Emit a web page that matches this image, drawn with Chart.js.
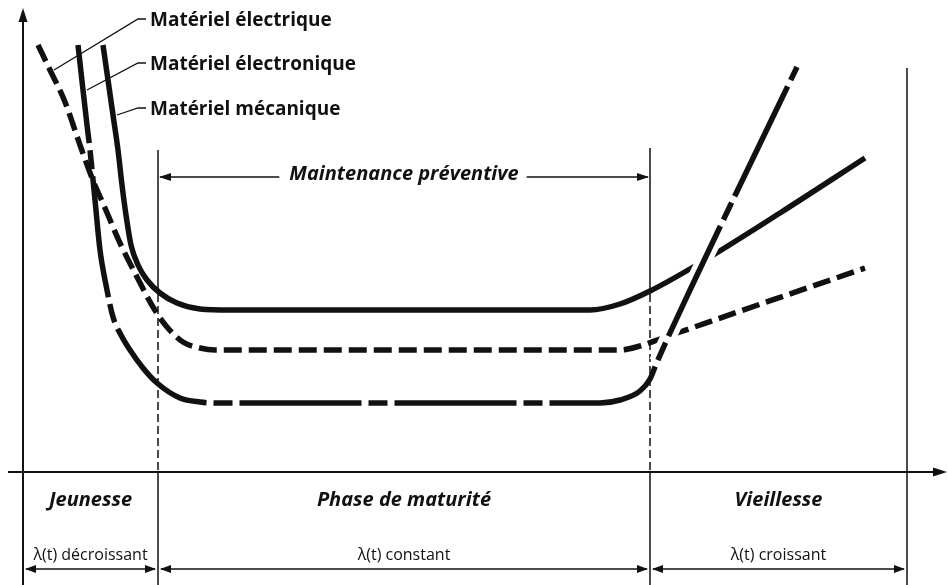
<!DOCTYPE html>
<html lang="fr">
<head>
<meta charset="utf-8">
<title>Courbe en baignoire</title>
<script src="https://cdn.jsdelivr.net/npm/chart.js@4.4.1/dist/chart.umd.min.js"></script>
<style>
  html, body { margin: 0; padding: 0; background: #fff; }
  #wrap { width: 947px; height: 585px; }
</style>
</head>
<body>
<div id="wrap"><canvas id="bathtubChart"></canvas></div>
<script>
// t = temps, lambda = taux de défaillance (unités arbitraires)
const tElectrique = [15, 27, 42, 57, 69, 82, 97, 114, 130, 144, 160, 177, 192, 597, 617, 637, 657, 842];
const lambdaElectrique = [427, 402, 370, 327, 294, 264, 229, 195, 165, 145, 130, 124, 122, 122, 126, 133, 140, 204];

const tElectronique = [55, 60, 64, 67, 72, 77, 83, 90, 98, 107, 120, 134, 157, 177, 194, 577, 597, 617, 627, 634, 667, 707, 774];
const lambdaElectronique = [427, 382, 347, 322, 272, 222, 187, 155, 137, 122, 104, 89, 74, 70, 69, 69, 72, 81, 93, 110, 182, 266, 405];

const tMecanique = [80, 85, 90, 95, 99, 103, 108, 115, 124, 137, 154, 177, 207, 567, 597, 627, 672, 757, 842];
const lambdaMecanique = [427, 392, 357, 322, 287, 257, 227, 207, 192, 179, 169, 163, 162, 162, 168, 181, 206, 259, 314];

const seriesNames = ["Matériel électrique", "Matériel électronique", "Matériel mécanique"];
const phaseBounds = [0, 135, 627, 884];
const phaseNames = ["Jeunesse", "Phase de maturité", "Vieillesse"];
const phaseTrends = ["λ(t) décroissant", "λ(t) constant", "λ(t) croissant"];
const maintenanceLabel = "Maintenance préventive";

const toPoints = (ts, ls) => ts.map((t, i) => ({ x: t, y: ls[i] }));
const ptsElectrique = toPoints(tElectrique, lambdaElectrique);
const ptsElectronique = toPoints(tElectronique, lambdaElectronique);
const ptsMecanique = toPoints(tMecanique, lambdaMecanique);
// white halo under the steep part so the other curves look "cut"
const ptsHalo = ptsElectronique.filter((p) => p.x >= 634);

const FONT = '"Open Sans", "DejaVu Sans", sans-serif';
const INK = "#111";

// where things sit, in lambda units (y) unless noted
const layout = {
    boundaryTop: [null, 322, 324, 404],
    dashedFrom: 190,
    yAxisTop: 464,
    xAxisLeft: -15,
    maintenanceY: 295,
    labelY: [446, 402, 357],
    labelX: 127,
    leaderIndex: [1, 1, 2],
    phaseNameY: -34,
    trendY: -88,
    arrowY: -97,
};

function arrowHead(ctx, x, y, dir, len, half) {
    ctx.beginPath();
    ctx.moveTo(x, y);
    if (dir === "left") {
        ctx.lineTo(x + len, y - half);
        ctx.lineTo(x + len, y + half);
    } else if (dir === "right") {
        ctx.lineTo(x - len, y - half);
        ctx.lineTo(x - len, y + half);
    } else {
        ctx.lineTo(x - half, y + len);
        ctx.lineTo(x + half, y + len);
    }
    ctx.closePath();
    ctx.fill();
}

function line(ctx, x1, y1, x2, y2) {
    ctx.beginPath();
    ctx.moveTo(x1, y1);
    ctx.lineTo(x2, y2);
    ctx.stroke();
}

const diagramPlugin = {
    id: "diagram",
    beforeDatasetsDraw(chart) {
        const { ctx, scales: { x, y } } = chart;
        const px = (t) => x.getPixelForValue(t);
        const py = (v) => y.getPixelForValue(v);
        const bottom = chart.height;
        ctx.save();
        ctx.strokeStyle = INK;
        ctx.fillStyle = INK;

        // phase boundaries
        ctx.lineWidth = 1.5;
        for (let i = 1; i < phaseBounds.length; i++) {
            const bx = px(phaseBounds[i]);
            if (i < phaseBounds.length - 1) {
                line(ctx, bx, py(layout.boundaryTop[i]), bx, py(layout.dashedFrom));
                ctx.setLineDash([8, 4]);
                line(ctx, bx, py(layout.dashedFrom), bx, py(0));
                ctx.setLineDash([]);
                line(ctx, bx, py(0), bx, bottom);
            } else {
                line(ctx, bx, py(layout.boundaryTop[i]), bx, bottom);
            }
        }

        // axes
        ctx.lineWidth = 2;
        line(ctx, px(0), bottom, px(0), py(layout.yAxisTop) + 10);
        arrowHead(ctx, px(0), py(layout.yAxisTop), "up", 14, 4.5);
        line(ctx, px(layout.xAxisLeft), py(0), chart.width - 10, py(0));
        arrowHead(ctx, chart.width, py(0), "right", 14, 4.5);
        ctx.restore();
    },
    afterDatasetsDraw(chart) {
        const { ctx, scales: { x, y } } = chart;
        const px = (t) => x.getPixelForValue(t);
        const py = (v) => y.getPixelForValue(v);
        const pts = [ptsElectrique, ptsElectronique, ptsMecanique];
        ctx.save();
        ctx.strokeStyle = INK;
        ctx.fillStyle = INK;

        // series labels + leader lines
        ctx.font = "bold 19px " + FONT;
        ctx.textBaseline = "alphabetic";
        ctx.lineWidth = 1.3;
        seriesNames.forEach((name, i) => {
            const ty = py(layout.labelY[i]);
            const lx = px(layout.labelX);
            ctx.fillText(name, lx, ty);
            const p = pts[i][layout.leaderIndex[i]];
            const midY = ty - 7;
            ctx.beginPath();
            ctx.moveTo(lx - 4, midY);
            ctx.lineTo(lx - 12, midY);
            ctx.lineTo(px(p.x) + 4, py(p.y));
            ctx.stroke();
        });

        // maintenance préventive arrow
        const m1 = px(phaseBounds[1]);
        const m2 = px(phaseBounds[2]);
        const my = py(layout.maintenanceY);
        ctx.font = "italic bold 20px " + FONT;
        ctx.textAlign = "center";
        ctx.textBaseline = "middle";
        const mw = ctx.measureText(maintenanceLabel).width;
        const mc = (m1 + m2) / 2;
        ctx.lineWidth = 1.3;
        line(ctx, m1 + 2, my, mc - mw / 2 - 10, my);
        line(ctx, mc + mw / 2 + 8, my, m2 - 2, my);
        arrowHead(ctx, m1 + 1, my, "left", 12, 4);
        arrowHead(ctx, m2 - 1, my, "right", 12, 4);
        ctx.fillText(maintenanceLabel, mc, my - 3);

        // phases below the time axis
        for (let i = 0; i < phaseNames.length; i++) {
            const a = px(phaseBounds[i]);
            const b = px(phaseBounds[i + 1]);
            const c = (a + b) / 2;
            ctx.textBaseline = "alphabetic";
            ctx.font = "italic bold 20px " + FONT;
            ctx.fillText(phaseNames[i], c, py(layout.phaseNameY));
            ctx.font = "16px " + FONT;
            ctx.fillText(phaseTrends[i], c, py(layout.trendY));
            const ay = py(layout.arrowY);
            ctx.lineWidth = 1.5;
            line(ctx, a + 3, ay, b - 3, ay);
            arrowHead(ctx, a + 2, ay, "left", 11, 4);
            arrowHead(ctx, b - 2, ay, "right", 11, 4);
        }
        ctx.restore();
    },
};

const curveStyle = {
    pointRadius: 0,
    fill: false,
    borderColor: INK,
    borderWidth: 5.5,
    borderCapStyle: "butt",
    cubicInterpolationMode: "monotone",
};

const ctx = document.getElementById("bathtubChart").getContext("2d");
const bathtubChart = new Chart(ctx, {
    type: "line",
    data: {
        datasets: [
            { ...curveStyle, label: seriesNames[1], data: ptsElectronique, borderDash: [122, 7, 19, 7], borderDashOffset: 23, order: 1 },
            { ...curveStyle, label: "halo", data: ptsHalo, borderColor: "#fff", borderWidth: 16, order: 2 },
            { ...curveStyle, label: seriesNames[0], data: ptsElectrique, borderDash: [18, 7], order: 3 },
            { ...curveStyle, label: seriesNames[2], data: ptsMecanique, order: 3 },
        ],
    },
    options: {
        responsive: true,
        maintainAspectRatio: false,
        animation: false,
        layout: { padding: 0 },
        scales: {
            x: { type: "linear", display: false, min: -23, max: 924 },
            y: { display: false, min: -113, max: 472 },
        },
        plugins: {
            legend: { display: false },
            tooltip: { enabled: false },
        },
    },
    plugins: [diagramPlugin],
});
</script>
</body>
</html>
